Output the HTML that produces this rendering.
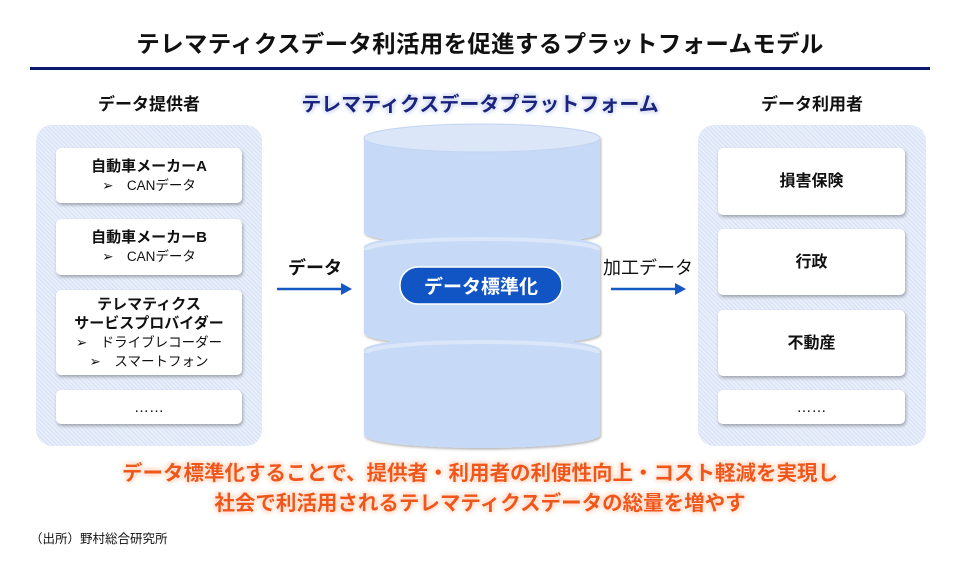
<!DOCTYPE html>
<html><head><meta charset="utf-8"><style>
body{margin:0;width:960px;height:565px;background:#fff;position:relative;overflow:hidden;font-family:"Liberation Sans","Noto Sans CJK JP",sans-serif;color:#111}
.a{position:absolute}
.t{position:absolute;left:0;width:960px;text-align:center}
.panel{position:absolute;border-radius:16px;background:repeating-linear-gradient(45deg,#d6e1f5 0 1px,#e8eefa 1px 3px)}
.card{position:absolute;background:#fff;border-radius:5px;box-shadow:1px 2px 3px rgba(0,0,0,.3);text-align:center;font-size:15px;font-weight:bold;display:flex;flex-direction:column;justify-content:center;line-height:19px}
.sub{font-weight:normal;font-size:13.5px}
.lbl{position:absolute;font-size:17px;font-weight:bold;text-align:center}
</style></head><body>
<div class="t" style="top:25px;font-size:23.5px;font-weight:bold;letter-spacing:0.3px">テレマティクスデータ利活用を促進するプラットフォームモデル</div>
<div class="a" style="left:30px;top:67px;width:900px;height:3px;background:#0d1a6e"></div>
<div class="lbl" style="left:36px;width:226px;top:90px">データ提供者</div>
<div class="lbl" style="left:698px;width:228px;top:90px">データ利用者</div>
<div class="lbl" style="left:280px;width:400px;top:88px;font-size:20px;color:#1a237e;text-shadow:0 0 3px #fff,0 0 4px #9fb3e6,0 0 6px #c7d3f3">テレマティクスデータプラットフォーム</div>

<div class="panel" style="left:36px;top:125px;width:226px;height:321px"></div>
<div class="card" style="left:56px;top:148px;width:186px;height:55px">自動車メーカーA<span class="sub">➢　CANデータ</span></div>
<div class="card" style="left:56px;top:219px;width:186px;height:56px">自動車メーカーB<span class="sub">➢　CANデータ</span></div>
<div class="card" style="left:56px;top:290px;width:186px;height:85px">テレマティクス<br>サービスプロバイダー<span class="sub">➢　ドライブレコーダー<br>➢　スマートフォン</span></div>
<div class="card" style="left:56px;top:390px;width:186px;height:34px;font-weight:normal">……</div>

<div class="panel" style="left:698px;top:125px;width:228px;height:321px"></div>
<div class="card" style="left:718px;top:148px;width:187px;height:67px;font-size:16px">損害保険</div>
<div class="card" style="left:718px;top:229px;width:187px;height:66px;font-size:16px">行政</div>
<div class="card" style="left:718px;top:310px;width:187px;height:66px;font-size:16px">不動産</div>
<div class="card" style="left:718px;top:390px;width:187px;height:34px;font-weight:normal">……</div>

<svg class="a" style="left:0;top:0" width="960" height="565">
<defs><filter id="sh" x="-5%" y="-5%" width="115%" height="120%"><feDropShadow dx="1" dy="1.5" stdDeviation="1.2" flood-color="#000" flood-opacity=".3"/></filter></defs>
<g filter="url(#sh)">
<path d="M364,350 A118,13 0 0 1 600,350 L600,435 A118,13 0 0 1 364,435 Z" fill="#c6daf7"/>
<path d="M364,247 A118,13 0 0 1 600,247 L600,333 A118,13 0 0 1 364,333 Z" fill="#c6daf7"/>
<path d="M364,138 A118,14 0 0 1 600,138 L600,232 A118,13 0 0 1 364,232 Z" fill="#c6daf7"/>
</g>
<ellipse cx="482" cy="138" rx="118" ry="14" fill="#dbe6f9" stroke="#c2d4f2" stroke-width="1"/>
<path d="M366,250 A116,11 0 0 1 598,250" fill="none" stroke="#dbe6f9" stroke-width="4"/>
<path d="M366,353 A116,11 0 0 1 598,353" fill="none" stroke="#dbe6f9" stroke-width="4"/>
<rect x="400" y="267" width="162" height="37" rx="18" fill="#1155c4" stroke="#fff" stroke-width="1.5"/>
<text x="481" y="293" text-anchor="middle" font-size="19" font-weight="bold" fill="#fff" font-family="Liberation Sans,Noto Sans CJK JP,sans-serif">データ標準化</text>
<line x1="277" y1="289" x2="342" y2="289" stroke="#1458c4" stroke-width="2.5"/>
<polygon points="341,283 352,289 341,295" fill="#1458c4"/>
<line x1="611" y1="289" x2="676" y2="289" stroke="#1458c4" stroke-width="2.5"/>
<polygon points="675,283 686,289 675,295" fill="#1458c4"/>
</svg>
<div class="lbl" style="left:265px;width:100px;top:254px;font-size:18px">データ</div>
<div class="lbl" style="left:593px;width:110px;top:254px;font-size:18px;font-weight:normal">加工データ</div>

<div class="t" style="top:459px;font-size:20.5px;font-weight:bold;color:#f0561a;line-height:30px;text-shadow:0 0 3px #fff,0 0 5px #f9b48e,0 0 7px #fcd0b5">データ標準化することで、提供者・利用者の利便性向上・コスト軽減を実現し<br>社会で利活用されるテレマティクスデータの総量を増やす</div>
<div class="a" style="left:30px;top:528px;font-size:12.5px">（出所）野村総合研究所</div>
</body></html>
